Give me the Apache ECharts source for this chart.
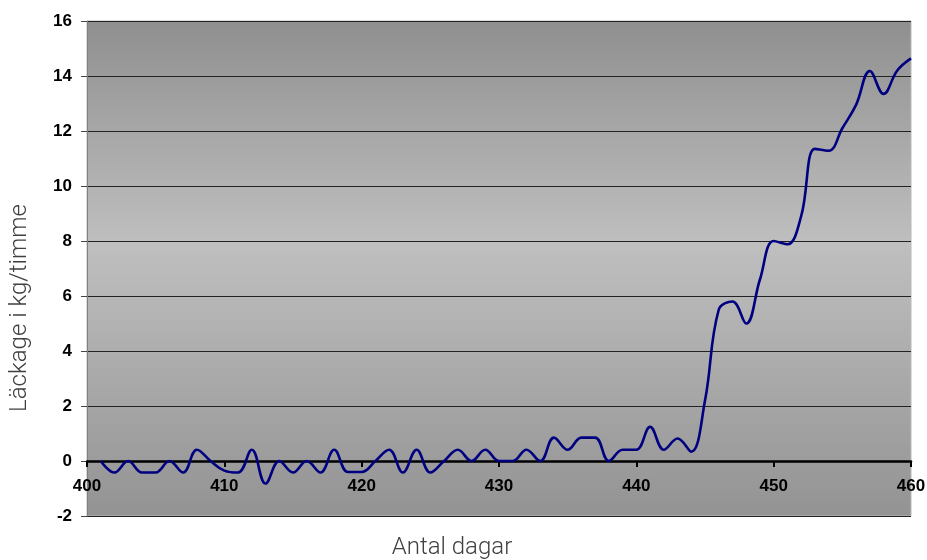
<!DOCTYPE html>
<html>
<head>
<meta charset="utf-8">
<script src="https://cdn.jsdelivr.net/npm/echarts@6/dist/echarts.min.js"></script>
<style>
html,body{margin:0;padding:0;background:#fff;}
#c{width:927px;height:560px;}
</style>
</head>
<body>
<div id="c"></div>
<script>
const days = [401,402,403,404,405,406,407,408,409,410,411,412,413,414,415,416,417,418,419,420,
  421,422,423,424,425,426,427,428,429,430,431,432,433,434,435,436,437,438,439,440,
  441,442,443,444,445,446,447,448,449,450,451,452,453,454,455,456,457,458,459,460];
const leakage = [0,-0.42,0,-0.42,-0.42,0,-0.42,0.41,0,-0.35,-0.42,0.41,-0.82,0,-0.42,0,-0.42,0.41,-0.4,-0.4,
  0,0.41,-0.42,0.41,-0.42,0,0.41,0,0.41,0,0,0.41,0,0.85,0.41,0.85,0.85,0,0.41,0.41,
  1.24,0.41,0.82,0.34,2.2,5.5,5.8,5.0,6.6,8.0,7.88,8.9,11.35,11.28,12.1,12.95,14.18,13.35,14.2,14.64];
const xTicks = [400,410,420,430,440,450,460];
const yTicks = [-2,0,2,4,6,8,10,12,14,16];
const xTitle = 'Antal dagar';
const yTitle = 'Läckage i kg/timme';

const chart = echarts.init(document.getElementById('c'), null, {renderer:'canvas'});
chart.setOption({
  animation:false,
  backgroundColor:'#ffffff',
  grid:{left:87,right:16,top:21,bottom:44,containLabel:false,outerBoundsMode:'none',
    show:true,borderColor:'#b8b8b8',borderWidth:1,
    backgroundColor:new echarts.graphic.LinearGradient(0,0,0,1,[
      {offset:0,color:'#8f8f8f'},{offset:0.45,color:'#bfbfbf'},{offset:1,color:'#939393'}])},
  xAxis:{type:'value',min:xTicks[0],max:xTicks[xTicks.length-1],interval:10,
    offset:-55,
    axisLine:{onZero:false,lineStyle:{color:'#000',width:2.5}},
    axisTick:{show:true,length:6,lineStyle:{color:'#000',width:2}},
    axisLabel:{margin:17,fontFamily:'Liberation Sans, Arial',fontWeight:'bold',fontSize:17,color:'#000'},
    splitLine:{show:false}
  },
  yAxis:{type:'value',min:yTicks[0],max:yTicks[yTicks.length-1],interval:2,
    axisLine:{show:true,onZero:false,lineStyle:{color:'#808080',width:1}},
    axisTick:{show:true,length:6,lineStyle:{color:'#444',width:1}},
    axisLabel:{margin:15,fontFamily:'Liberation Sans, Arial',fontWeight:'bold',fontSize:17,color:'#000'},
    splitLine:{show:true,lineStyle:{color:'#222',width:1}}
  },
  graphic:[
    {type:'text',x:452,y:548,style:{text:xTitle,font:'300 24px Roboto',fill:'#404040',align:'center',verticalAlign:'middle'}},
    {type:'text',x:20,y:308,rotation:Math.PI/2,style:{text:yTitle,font:'300 24px Roboto',fill:'#404040',align:'center',verticalAlign:'middle'}}
  ],
  series:[{type:'line',data:days.map((d,i)=>[d,leakage[i]]),smooth:0.4,showSymbol:false,
    lineStyle:{color:'#000080',width:2.6},z:5}]
});
</script>
</body>
</html>
